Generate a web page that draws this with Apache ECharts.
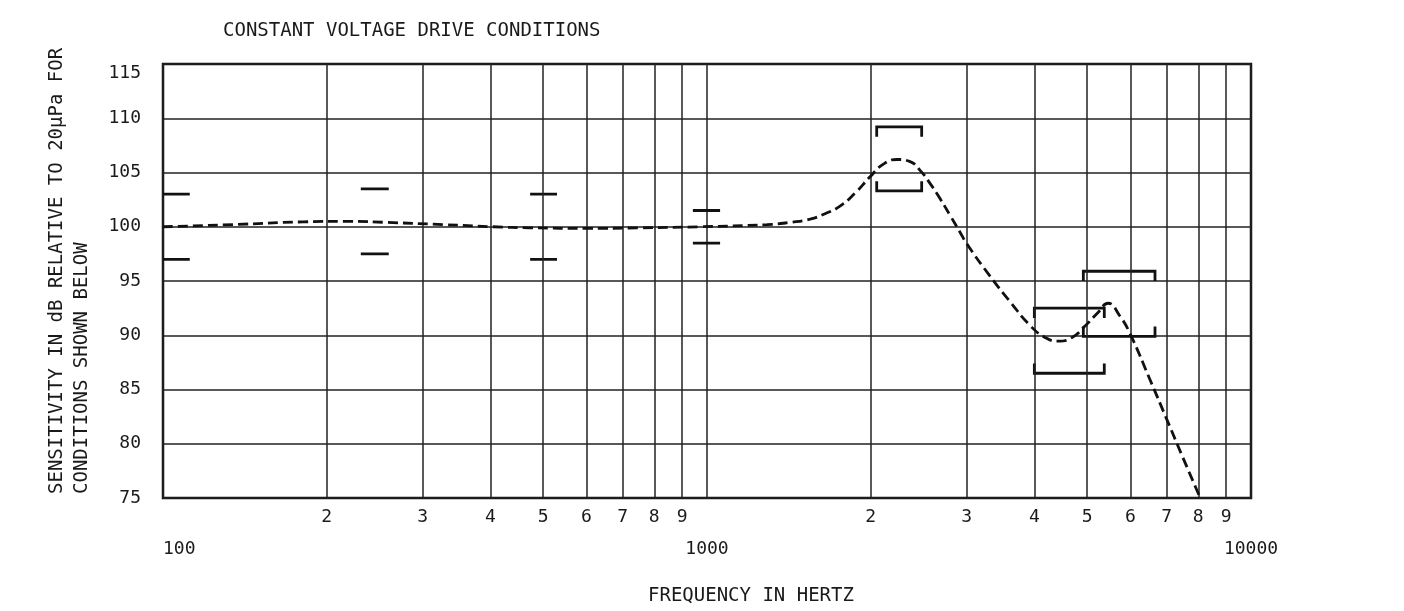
<!DOCTYPE html>
<html><head><meta charset="utf-8">
<script src="https://cdn.jsdelivr.net/npm/echarts@6/dist/echarts.min.js"></script>
<style>html,body{margin:0;padding:0;background:#fff}#c{width:1404px;height:611px}</style>
</head><body><div id="c"></div>
<script>
// Response curve (frequency in Hz, sensitivity in dB)
const curveFreq = [100,134.5,181,221,258,327,404,473,609,743,971,1289,1421,1547,1648,1756,1871,1994,2107,2236,2362,2464,2570,2681,2798,2918,3006,3313,3606,3926,4182,4419,4688,4953,5234,5460,5744,5993,6522,7008,7499,8060];
const curveDb   = [100,100.2,100.45,100.5,100.4,100.2,100.0,99.9,99.85,99.9,100.0,100.2,100.4,100.7,101.2,101.9,103.1,104.6,105.75,106.2,106.0,105.2,104.0,102.6,101.05,99.5,98.4,95.45,93.1,90.9,89.8,89.45,89.8,90.85,92.1,92.95,91.75,90.15,85.9,82.2,78.7,75.05];

// Tolerance dashes (frequency span, upper and lower limits)
const dashLow   = [100, 231, 473, 942];
const dashHigh  = [112, 260, 530, 1057];
const dashUpper = [103, 103.5, 103, 101.5];
const dashLower = [97, 97.5, 97, 98.5];

// Tolerance brackets
const bracketLow   = [2051, 3997, 4918];
const bracketHigh  = [2481, 5374, 6661];
const bracketUpper = [109.2, 92.5, 95.9];
const bracketLower = [103.3, 86.5, 89.9];

// Minor log grid lines and their labels
const minorFreq   = [200,300,400,500,600,700,800,900,2000,3000,4000,5000,6000,7000,8000,9000];
const minorLabels = ['2','3','4','5','6','7','8','9','2','3','4','5','6','7','8','9'];

const FONT = 'DejaVu Sans Mono';
const INK = '#1a1a1a';
const LEG = 0.9;

const series = [];
series.push({
  type: 'line', data: [], z: 1, silent: true,
  markLine: {
    silent: true, symbol: ['none','none'], animation: false,
    lineStyle: { color: '#222', width: 1.5, type: 'solid' },
    label: { show: true, position: 'start', distance: 10, fontFamily: FONT, fontSize: 18, color: INK },
    data: minorFreq.map((f, i) => ({ xAxis: f, label: { formatter: minorLabels[i] } }))
  }
});
series.push({
  type: 'line', z: 5, smooth: 0.5, symbol: 'none', silent: true,
  lineStyle: { color: '#111', width: 2.8, type: [10, 5] },
  data: curveFreq.map((f, i) => [f, curveDb[i]])
});
for (let i = 0; i < dashLow.length; i++) {
  [dashUpper[i], dashLower[i]].forEach(v => {
    series.push({ type: 'line', z: 4, symbol: 'none', silent: true,
      lineStyle: { color: '#111', width: 2.8 },
      data: [[dashLow[i], v], [dashHigh[i], v]] });
  });
}
for (let i = 0; i < bracketLow.length; i++) {
  const a = bracketLow[i], b = bracketHigh[i], u = bracketUpper[i], l = bracketLower[i];
  series.push({ type: 'line', z: 4, symbol: 'none', silent: true,
    lineStyle: { color: '#111', width: 2.8, join: 'miter' },
    data: [[a, u - LEG], [a, u], [b, u], [b, u - LEG]] });
  series.push({ type: 'line', z: 4, symbol: 'none', silent: true,
    lineStyle: { color: '#111', width: 2.8, join: 'miter' },
    data: [[a, l + LEG], [a, l], [b, l], [b, l + LEG]] });
}

const chart = echarts.init(document.getElementById('c'));
chart.setOption({
  animation: false,
  backgroundColor: '#fff',
  title: [
    { text: 'CONSTANT VOLTAGE DRIVE CONDITIONS', left: 218, top: 17,
      textStyle: { fontFamily: FONT, fontSize: 19, fontWeight: 'normal', color: INK } },
    { text: 'FREQUENCY IN HERTZ', left: 643, top: 582,
      textStyle: { fontFamily: FONT, fontSize: 19, fontWeight: 'normal', color: INK } }
  ],
  graphic: [{
    type: 'text', x: 45, y: 494, rotation: Math.PI / 2,
    style: { text: 'SENSITIVITY IN dB RELATIVE TO 20µPa FOR\nCONDITIONS SHOWN BELOW',
      font: '19px "DejaVu Sans Mono"', fill: INK, align: 'left', verticalAlign: 'top', lineHeight: 25 }
  }],
  grid: { left: 163, top: 64, width: 1088, height: 434, show: true,
    borderColor: '#111', borderWidth: 2.5, backgroundColor: 'transparent' },
  xAxis: {
    type: 'log', logBase: 10, min: 100, max: 10000,
    axisLine: { show: false }, axisTick: { show: false },
    axisLabel: { margin: 42, fontFamily: FONT, fontSize: 18, color: INK, alignMinLabel: 'left',
      formatter: v => String(Math.round(v)) },
    splitLine: { show: true, lineStyle: { color: '#222', width: 1.5 } }
  },
  yAxis: {
    type: 'value', min: 75, max: 115, interval: 5,
    axisLine: { show: false }, axisTick: { show: false },
    axisLabel: { margin: 22, fontFamily: FONT, fontSize: 18, color: INK, verticalAlignMaxLabel: 'top' },
    splitLine: { show: true, lineStyle: { color: '#222', width: 1.5 } }
  },
  series: series
});
</script></body></html>
